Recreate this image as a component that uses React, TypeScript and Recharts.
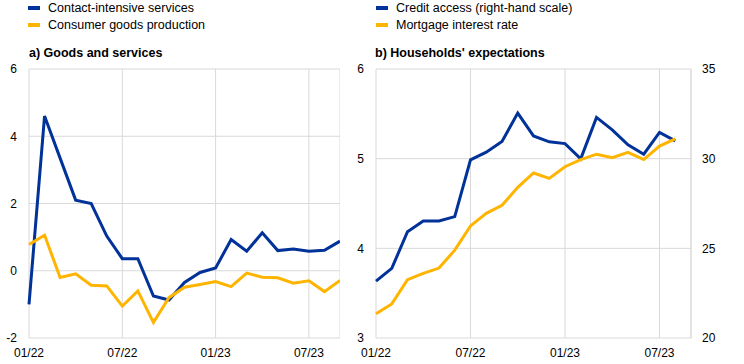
import { LineChart, Line, XAxis, YAxis, CartesianGrid } from 'recharts';

// monthly observations, 01/22 onwards
const contactServices = [-1.0, 4.6, 3.35, 2.1, 2.0, 1.03, 0.36, 0.36, -0.75, -0.87, -0.35, -0.05, 0.08, 0.93, 0.58, 1.13, 0.6, 0.65, 0.58, 0.61, 0.88];
const consumerGoods = [0.78, 1.06, -0.2, -0.09, -0.43, -0.45, -1.05, -0.6, -1.54, -0.8, -0.49, -0.41, -0.32, -0.47, -0.07, -0.19, -0.21, -0.37, -0.3, -0.62, -0.29];
const creditAccess = [23.17, 23.88, 25.93, 26.53, 26.53, 26.77, 29.93, 30.36, 30.96, 32.54, 31.27, 30.94, 30.84, 29.99, 32.3, 31.61, 30.77, 30.25, 31.46, 30.99];
const mortgageRate = [3.27, 3.38, 3.65, 3.72, 3.78, 3.98, 4.25, 4.39, 4.48, 4.68, 4.84, 4.78, 4.91, 4.99, 5.05, 5.01, 5.07, 4.99, 5.14, 5.22];

const xTickPos = [0, 6, 12, 18];
const xTickLabels = ['01/22', '07/22', '01/23', '07/23'];
const leftTicks = [-2, 0, 2, 4, 6];
const rightLeftTicks = [3, 4, 5, 6];
const rightRightTicks = [20, 25, 30, 35];

const goodsData = contactServices.map((v, i) => ({ m: i, services: v, goods: consumerGoods[i] }));
const householdData = creditAccess.map((v, i) => ({ m: i, credit: v, mortgage: mortgageRate[i] }));

const BLUE = '#003299';
const YELLOW = '#ffb400';
const GRID = '#d9d9d9';
const FONT = '"Liberation Sans", Arial, sans-serif';
const tickStyle = { fontSize: 12, fill: '#000', fontFamily: FONT };

const fmtX = (v: number) => xTickLabels[xTickPos.indexOf(v)] ?? '';

function LegendItem({ x, y, color, label }: { x: number; y: number; color: string; label: string }) {
  return (
    <div style={{ position: 'absolute', left: x, top: y, display: 'flex', alignItems: 'center', height: 16 }}>
      <div style={{ width: 12, height: 4, background: color, marginRight: 8 }} />
      <span style={{ fontSize: 12.5, fontFamily: FONT, color: '#000', whiteSpace: 'nowrap' }}>{label}</span>
    </div>
  );
}

function Title({ x, y, text }: { x: number; y: number; text: string }) {
  return (
    <div style={{ position: 'absolute', left: x, top: y, fontSize: 12.5, fontWeight: 'bold', fontFamily: FONT, whiteSpace: 'nowrap' }}>
      {text}
    </div>
  );
}

export default function App() {
  return (
    <div style={{ position: 'absolute', left: 0, top: 0, width: 744, height: 364, background: '#fff', overflow: 'hidden' }}>
      <LegendItem x={28} y={0} color={BLUE} label="Contact-intensive services" />
      <LegendItem x={28} y={17} color={YELLOW} label="Consumer goods production" />
      <LegendItem x={376} y={0} color={BLUE} label="Credit access (right-hand scale)" />
      <LegendItem x={376} y={17} color={YELLOW} label="Mortgage interest rate" />
      <Title x={29} y={46} text="a) Goods and services" />
      <Title x={375} y={46} text="b) Households' expectations" />

      <div style={{ position: 'absolute', left: 0, top: 0 }}>
        <LineChart width={340} height={364} data={goodsData} margin={{ top: 69, right: 0, bottom: 0, left: 0 }}>
          <CartesianGrid stroke={GRID} vertical horizontal verticalPoints={undefined} />
          <XAxis
            dataKey="m"
            type="number"
            domain={[0, 20]}
            ticks={xTickPos}
            tickFormatter={fmtX}
            axisLine={false}
            tickLine={false}
            tickMargin={4}
            height={26}
            tick={tickStyle}
            interval={0}
          />
          <YAxis
            type="number"
            domain={[-2, 6]}
            ticks={leftTicks}
            axisLine={false}
            tickLine={false}
            tickMargin={6}
            width={29}
            tick={tickStyle}
            interval={0}
          />
          <Line dataKey="services" stroke={BLUE} strokeWidth={3} dot={false} isAnimationActive={false} />
          <Line dataKey="goods" stroke={YELLOW} strokeWidth={3} dot={false} isAnimationActive={false} />
        </LineChart>
      </div>

      <div style={{ position: 'absolute', left: 340, top: 0 }}>
        <LineChart width={404} height={364} data={householdData} margin={{ top: 69, right: 0, bottom: 0, left: 0 }}>
          <CartesianGrid stroke={GRID} yAxisId="left" />
          <XAxis
            dataKey="m"
            type="number"
            domain={[0, 20]}
            ticks={xTickPos}
            tickFormatter={fmtX}
            axisLine={false}
            tickLine={false}
            tickMargin={4}
            height={26}
            tick={tickStyle}
            interval={0}
          />
          <YAxis
            yAxisId="left"
            type="number"
            domain={[3, 6]}
            ticks={rightLeftTicks}
            axisLine={false}
            tickLine={false}
            tickMargin={6}
            width={36}
            tick={tickStyle}
            interval={0}
          />
          <YAxis
            yAxisId="right"
            orientation="right"
            type="number"
            domain={[20, 35]}
            ticks={rightRightTicks}
            axisLine={{ stroke: GRID }}
            tickLine={false}
            tickMargin={5}
            width={53}
            tick={{ ...tickStyle, textAnchor: 'start' }}
            interval={0}
          />
          <Line yAxisId="right" dataKey="credit" stroke={BLUE} strokeWidth={3} dot={false} isAnimationActive={false} />
          <Line yAxisId="left" dataKey="mortgage" stroke={YELLOW} strokeWidth={3} dot={false} isAnimationActive={false} />
        </LineChart>
      </div>
    </div>
  );
}
